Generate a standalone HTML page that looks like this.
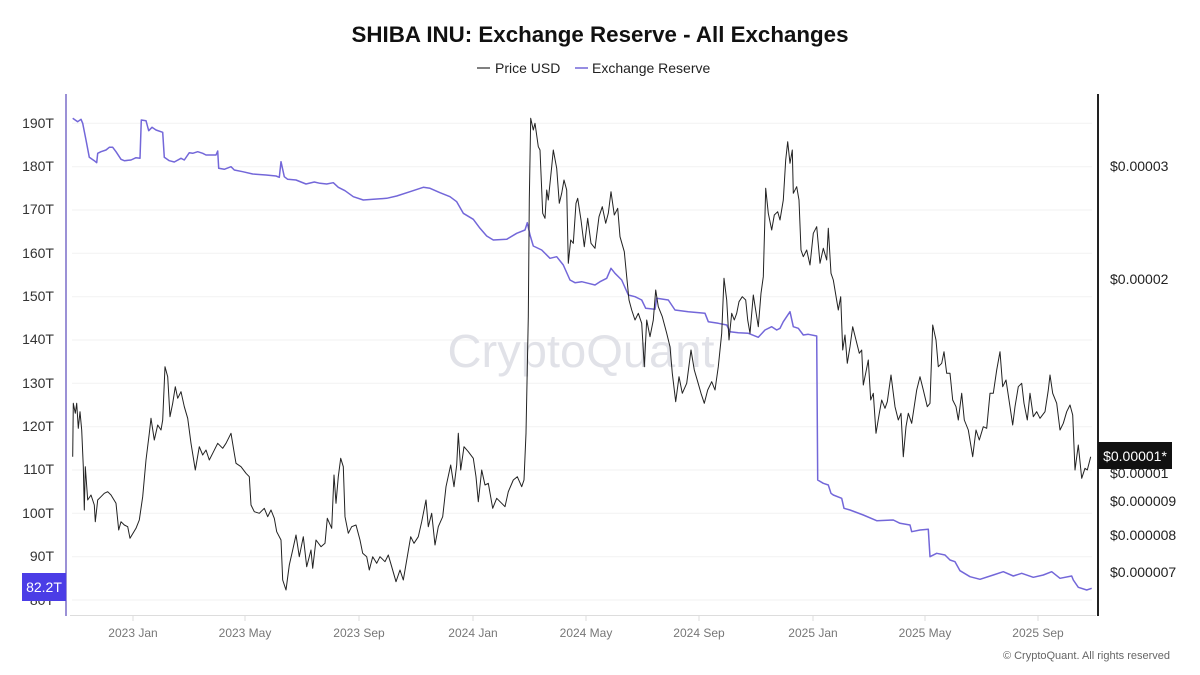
<!DOCTYPE html>
<html><head><meta charset="utf-8"><style>
html,body{margin:0;padding:0;background:#fff;}
svg{display:block;font-family:"Liberation Sans",sans-serif;}
</style></head><body>
<svg width="1200" height="675" viewBox="0 0 1200 675" xmlns="http://www.w3.org/2000/svg">
<rect width="1200" height="675" fill="#fff"/>
<text x="600" y="42" text-anchor="middle" font-size="22" font-weight="bold" fill="#111" textLength="497" lengthAdjust="spacingAndGlyphs">SHIBA INU: Exchange Reserve - All Exchanges</text>
<line x1="477" y1="68" x2="490" y2="68" stroke="#555" stroke-width="1.5"/>
<text x="495" y="73" font-size="14" fill="#222">Price USD</text>
<line x1="575" y1="68" x2="588" y2="68" stroke="#7367d9" stroke-width="1.5"/>
<text x="592" y="73" font-size="14" fill="#222">Exchange Reserve</text>
<g stroke="#f2f2f2" stroke-width="1">
<line x1="72" y1="123.3" x2="1092" y2="123.3"/><line x1="72" y1="166.7" x2="1092" y2="166.7"/><line x1="72" y1="210" x2="1092" y2="210"/><line x1="72" y1="253.3" x2="1092" y2="253.3"/><line x1="72" y1="296.7" x2="1092" y2="296.7"/><line x1="72" y1="340" x2="1092" y2="340"/><line x1="72" y1="383.3" x2="1092" y2="383.3"/><line x1="72" y1="426.7" x2="1092" y2="426.7"/><line x1="72" y1="470" x2="1092" y2="470"/><line x1="72" y1="513.3" x2="1092" y2="513.3"/><line x1="72" y1="556.7" x2="1092" y2="556.7"/><line x1="72" y1="600" x2="1092" y2="600"/>
</g>
<text x="581" y="367" text-anchor="middle" font-size="46" fill="#e1e2e8" textLength="267" lengthAdjust="spacingAndGlyphs">CryptoQuant</text>
<g font-size="14" fill="#333" text-anchor="end">
<text x="54" y="128">190T</text><text x="54" y="171">180T</text><text x="54" y="214">170T</text><text x="54" y="258">160T</text><text x="54" y="301">150T</text><text x="54" y="344">140T</text><text x="54" y="388">130T</text><text x="54" y="431">120T</text><text x="54" y="474">110T</text><text x="54" y="518">100T</text><text x="54" y="561">90T</text><text x="54" y="605">80T</text>
</g>
<g font-size="14" fill="#222">
<text x="1110" y="171">$0.00003</text><text x="1110" y="284">$0.00002</text><text x="1110" y="478">$0.00001</text><text x="1110" y="506">$0.000009</text><text x="1110" y="540">$0.000008</text><text x="1110" y="577">$0.000007</text>
</g>
<line x1="70" y1="615.5" x2="1096" y2="615.5" stroke="#ddd" stroke-width="1"/>
<g stroke="#ddd" stroke-width="1">
<line x1="133" y1="615" x2="133" y2="621"/><line x1="245" y1="615" x2="245" y2="621"/><line x1="359" y1="615" x2="359" y2="621"/><line x1="473" y1="615" x2="473" y2="621"/><line x1="586" y1="615" x2="586" y2="621"/><line x1="699" y1="615" x2="699" y2="621"/><line x1="813" y1="615" x2="813" y2="621"/><line x1="925" y1="615" x2="925" y2="621"/><line x1="1038" y1="615" x2="1038" y2="621"/>
</g>
<g font-size="12" fill="#777" text-anchor="middle">
<text x="133" y="637">2023 Jan</text><text x="245" y="637">2023 May</text><text x="359" y="637">2023 Sep</text><text x="473" y="637">2024 Jan</text><text x="586" y="637">2024 May</text><text x="699" y="637">2024 Sep</text><text x="813" y="637">2025 Jan</text><text x="925" y="637">2025 May</text><text x="1038" y="637">2025 Sep</text>
</g>
<text x="1170" y="659" text-anchor="end" font-size="11" fill="#666">© CryptoQuant. All rights reserved</text>
<polyline fill="none" stroke="#7367d9" stroke-width="1.5" stroke-linejoin="round" points="72.7,118.3 77.7,121.7 81,119.3 82.7,123.3 86,140 89.3,157.3 94.3,160.7 96.7,162.7 97.7,153.3 101,151.7 106,150 109.3,147.3 112.7,147.3 116,151.7 121,159.3 124.3,160.7 131,160 136,157.7 140,158.3 141.3,120 146,120.7 148.7,130.7 152,127.3 156,130 162.7,132.3 164.3,157.3 169.3,160.7 174.3,162 181,158.3 184.3,160 189.3,152.7 192.7,153.3 197.7,151.7 202.7,153.3 206,155 216,155 217.7,151 218.7,168.3 224.3,169.3 231,166.7 234.3,170 242.7,171.7 252.7,174 266,175 276,176 279.3,177.3 281,161.7 284.3,176.7 287.7,179.3 296,180 306,184 314.3,182 320,183.3 326.7,184 333.3,182.7 338.3,187.3 345,190.7 353.3,196.7 363.3,200 373.3,199.3 386.7,198.3 396.7,196 410,191.7 423.3,187.3 430,188.3 440,192.7 450,196.7 456.7,201.7 463.3,213.3 473.3,219.3 480,228.3 486.7,236 493.3,240 506.7,239.3 516.7,233.3 525,230 527.3,222.7 530,235 533.3,246 541.7,250 550,258.3 556.7,256.7 563.3,265 570,280 575,282.7 581.7,281.7 588.3,283.3 595,285 600,281.7 606.7,278.3 611,268.3 615,273.3 621.7,280 628.3,295 635,296.7 641.7,300 645.7,308.3 655,309.3 656.7,298.3 668.3,300 675,310 688.3,311.7 705,313.3 708.3,321.7 718.3,323.3 726.7,325 730,331.7 738.3,332.7 748.3,333.3 758.3,337.3 765,330 771.7,326.7 776.7,330 780,328.3 783.3,321.7 790,311.7 793.3,326.7 798.3,328.3 803.3,335 808.3,334.3 816.7,336 817.7,480 823.3,483.3 828.3,485 831,493.3 833.3,495 841.7,498.3 844,508.3 850,510 863.3,515 876.7,520.7 893.3,520 900,523.3 910,525 911.7,531.7 920,530 928.3,529.3 930,556.7 936.7,553.3 945,555 950,560 955,561.7 960,570.7 970,576.7 980,579.3 993.3,575 1003.3,571.7 1013.3,576 1021.7,573.3 1033.3,577.3 1043.3,575 1051.7,571.7 1060,578.3 1071.7,576 1073.3,580 1078.3,587.3 1086.7,590 1091.7,588.3"/>
<polyline fill="none" stroke="#222" stroke-width="1" stroke-linejoin="round" points="72.7,456.7 73.3,403.3 75.3,413.3 76.7,403.3 78.3,428.3 80,411.7 81.7,430 83.3,466.7 84.3,510 85.3,466.7 87.7,500 91,495 94.3,505 95.3,521.7 97.7,500 101,496.7 104.3,493.3 107.7,491.7 111,495 116,503.3 118.7,530 121,521.7 124.3,525 127.7,526.7 130,538.3 136,528.3 139.3,520 142.7,496.7 146,460 149.3,433.3 151,418.3 154.3,440 157.7,425 161,430 162.7,420 165,366.7 167.7,376.7 170,416.7 172.7,403.3 175.3,386.7 177.7,398.3 181,391.7 184.3,406.7 187.7,418.3 191,443.3 195.3,470 199.3,446.7 202.7,455 206,450 209.3,460 212.7,453.3 217.7,443.3 222.7,448.3 226,443.3 231,433.3 234.3,453.3 236,463.3 241,466.7 246,473.3 249.3,476.7 251,505 254.3,511.7 259.3,513.3 264.3,508.3 267.7,516.7 271,510 274.3,518.3 276.7,531.7 281,540 282.7,580 286,590 289.3,565 292.7,550 296,535 299.3,556.7 303.3,536.7 306.7,566.7 311,550 312.7,568.3 316,540 321,546.7 325,543.3 327.3,518.3 331.7,528.3 334,475 336,503.3 338.3,476.7 340.7,458.3 343.3,466.7 345,516.7 348.3,533.3 351.7,526.7 356,525 360,540 362.7,553.3 366.7,556.7 369.3,570 372.7,556.7 376.7,563.3 380,556.7 385,561.7 388.3,555 391.7,566.7 396,581.7 400,570 403.3,580 407.3,556.7 410.7,536.7 414,543.3 418.3,536.7 421.7,521.7 426,500 428.3,526.7 431.7,513.3 435,545 438.3,526.7 442.7,516.7 446,486.7 450.7,465 454,486.7 456.7,465 458.3,433.3 460.7,470 464,446.7 468.3,451.7 473.3,458.3 476,476.7 478.3,501.7 481.7,470 485,485 488.3,483.3 492.7,508.3 496.7,498.3 501.7,503.3 505,506.7 508.3,491.7 513.3,480 517.3,476.7 521.7,486.7 524,480 526,433.3 528.3,316.7 529.3,200 530.7,118.3 533.3,130 535,123.3 538.3,146.7 540,150 542.7,213.3 545,218.3 546.7,190 548.3,200 551.7,166.7 553.3,150 556.7,168.3 559.3,203.3 561.7,193.3 564,180 566.7,190 568.3,263.3 570.7,240 573.3,243.3 576,203.3 577.7,198.3 581,220 584.3,246.7 587.7,218.3 591,243.3 595,248.3 599,216.7 602.3,206.7 605.7,223.3 608.3,213.3 611,191.7 614.3,215 617.7,208.3 620,236.7 624.3,251.7 626.7,276.7 629,300 631.7,310 635,320 638.3,313.3 641.7,323.3 644.3,366.7 646.7,320 650,336.7 653.3,320 655.7,290 658.3,306.7 662.3,316.7 666.7,333.3 670,346.7 672.3,373.3 675.7,401.7 679,376.7 682.3,393.3 686.7,383.3 691,350 694.3,370 697.7,381.7 701,393.3 704.3,403.3 707.7,390 711.7,381.7 715,390 718.3,366.7 721.7,333.3 724,278.3 726.7,300 729,340 731.7,313.3 734.3,320 736.7,313.3 739,301.7 742.3,296.7 745.7,300 747.7,320 750,333.3 753.3,295 756.7,316.7 758.3,326.7 761,293.3 763.3,276.7 765.7,188.3 768.3,213.3 771.7,230 774.3,215 777.7,211.7 780,220 783.3,200 785.7,160 787.7,141.7 790,163.3 792.3,150 793.3,193.3 796.7,186.7 799,200 801,250 803.3,256.7 806.7,250 810,265 813.3,233.3 816.7,226.7 820,263.3 823.3,248.3 826.7,260 828.3,228.3 831,273.3 833.3,280 838.3,310 840.7,296.7 842.7,350 845,335 847.3,363.3 850,346.7 852.7,326.7 856,340 859.3,353.3 861.7,350 863.3,385 866,371.7 868.3,360 870.7,400 873.3,393.3 876,433.3 879.3,413.3 881.7,400 885,408.3 887.3,401.7 891,375 895,406.7 898.3,420 901,413.3 903.3,456.7 906,426.7 908.3,413.3 911.7,423.3 916.7,390 920,376.7 923.3,390 927.3,406.7 930,403.3 932.7,325 936,340 938.3,366.7 941.7,363.3 944,351.7 946.7,373.3 950,373.3 952.7,400 956,406.7 958.3,420 961.7,393.3 964.3,420 968.3,430 972.7,456.7 976,430 979.3,440 983.3,426.7 986.7,428.3 990,393.3 993.3,393.3 996.7,370 1000,351.7 1002.7,386.7 1006,380 1010,406.7 1012.7,425 1015,406.7 1018.3,386.7 1021.7,383.3 1024,403.3 1027.3,420 1030,393.3 1033.3,416.7 1036.7,411.7 1040,418.3 1045,411.7 1048.3,390 1050,375 1052.7,393.3 1056.7,403.3 1060,430 1063.3,423.3 1066.7,411.7 1070,405 1072.7,415 1075,470 1078.3,445 1081.7,478.3 1085,468.3 1087.3,470 1090.7,456.7"/>
<line x1="66" y1="94" x2="66" y2="616" stroke="#9b91d6" stroke-width="2"/>
<line x1="1098" y1="94" x2="1098" y2="616" stroke="#222" stroke-width="2"/>
<rect x="22" y="573" width="44" height="28" fill="#4b3de6"/>
<text x="44" y="592" text-anchor="middle" font-size="14" fill="#fff">82.2T</text>
<rect x="1098" y="442" width="74" height="27" fill="#111"/>
<text x="1135" y="461" text-anchor="middle" font-size="14" fill="#fff">$0.00001*</text>
</svg>
</body></html>
